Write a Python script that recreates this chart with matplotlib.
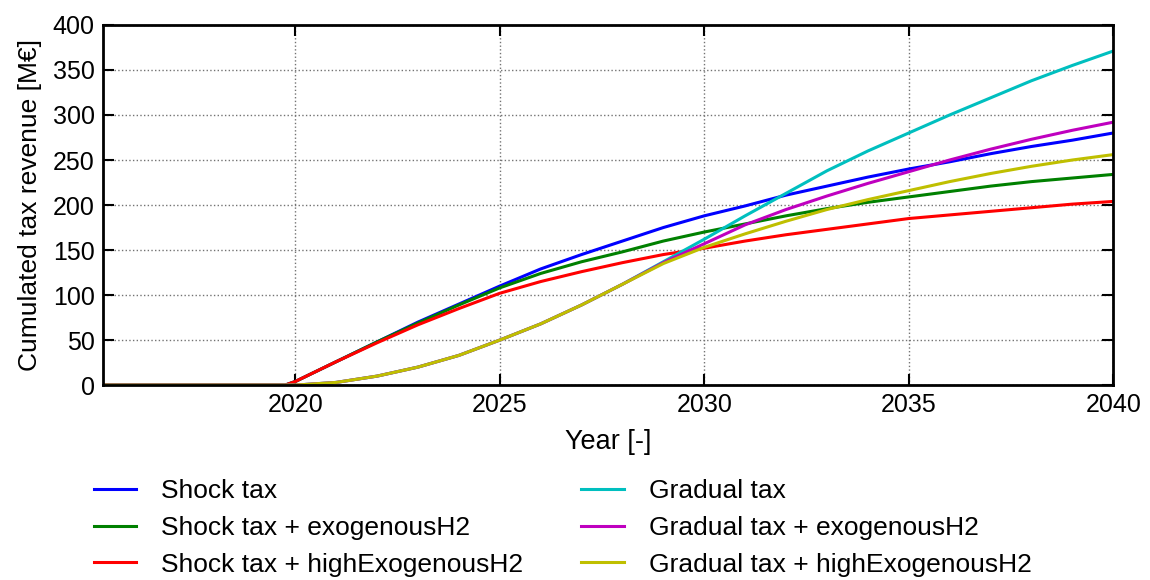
import matplotlib
matplotlib.use("Agg")
import matplotlib.pyplot as plt

plt.rcParams['font.family'] = ['Liberation Sans', 'DejaVu Sans']
plt.rcParams['font.size'] = 18

# years (with a point just before the tax starts so the curves stay flat)
years = [2015, 2016, 2017, 2018, 2019, 2019.75,
         2020, 2021, 2022, 2023, 2024, 2025, 2026, 2027, 2028, 2029, 2030,
         2031, 2032, 2033, 2034, 2035, 2036, 2037, 2038, 2039, 2040]
flat = [0, 0, 0, 0, 0, 0]

shock = flat + [4, 26, 48, 70, 90, 110, 129, 145, 160, 175, 188,
                199, 211, 221, 231, 240, 248, 257, 265, 272, 280]
shock_exo = flat + [4, 26, 48, 69, 89, 108, 124, 137, 148, 160, 170,
                    179, 188, 196, 203, 209, 215, 221, 226, 230, 234]
shock_high = flat + [4, 26, 47, 67, 85, 102, 115, 126, 136, 145, 152,
                     160, 167, 173, 179, 185, 189, 193, 197, 201, 204]
gradual = flat + [0, 3, 10, 20, 33, 50, 68, 89, 112, 137, 162,
                  188, 213, 238, 260, 280, 300, 319, 338, 355, 371]
gradual_exo = flat + [0, 3, 10, 20, 33, 50, 68, 89, 112, 136, 157,
                      178, 195, 210, 224, 237, 250, 262, 273, 283, 292]
gradual_high = flat + [0, 3, 10, 20, 33, 50, 68, 89, 112, 135, 153,
                       168, 182, 195, 206, 216, 226, 235, 243, 250, 256]

series = [
    (shock, 'Shock tax', (0, 0, 1)),
    (shock_exo, 'Shock tax + exogenousH2', (0, 0.5, 0)),
    (shock_high, 'Shock tax + highExogenousH2', (1, 0, 0)),
    (gradual, 'Gradual tax', (0, 0.75, 0.75)),
    (gradual_exo, 'Gradual tax + exogenousH2', (0.75, 0, 0.75)),
    (gradual_high, 'Gradual tax + highExogenousH2', (0.75, 0.75, 0)),
]

fig = plt.figure(figsize=(11.5, 5.8), dpi=100)
ax = fig.add_axes([0.0896, 0.336, 0.8784, 0.621])

for values, label, color in series:
    ax.plot(years, values, color=color, lw=2.2, label=label)

ax.set_xlim(2015.3, 2040)
ax.set_ylim(0, 400)
ax.set_xticks([2020, 2025, 2030, 2035, 2040])
ax.set_yticks(range(0, 401, 50))
ax.set_xlabel('Year [-]', fontsize=19.5, labelpad=8)
ax.set_ylabel('Cumulated tax revenue [M€]', fontsize=19, labelpad=8)

ax.grid(True, linestyle=':', color='0.45', lw=1)
ax.tick_params(direction='in', length=8, width=1.5, top=True, right=True,
               pad=6)
for sp in ax.spines.values():
    sp.set_linewidth(2)

fig.legend(loc='upper left', bbox_to_anchor=(0.0724, 0.192), ncol=2,
           frameon=False, fontsize=19, handlelength=1.6, handletextpad=0.95,
           columnspacing=2.2, labelspacing=0.48, borderaxespad=0)

fig.savefig('out.png', dpi=100)
